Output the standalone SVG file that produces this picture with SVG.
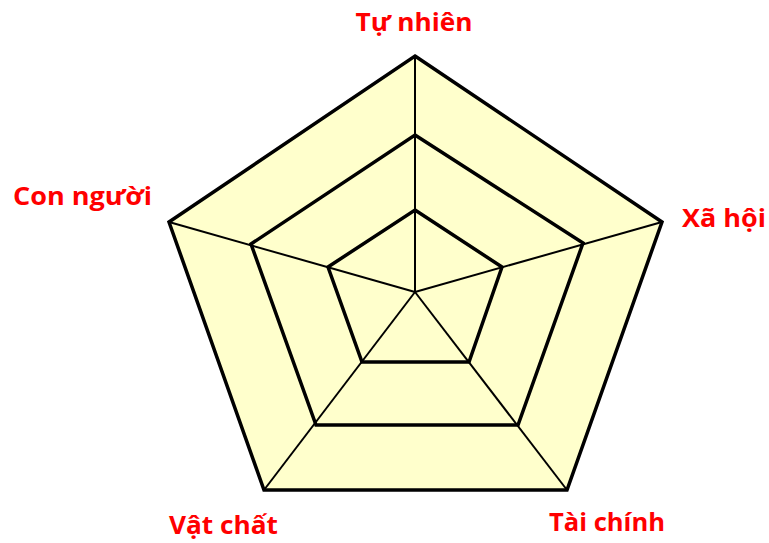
<svg xmlns="http://www.w3.org/2000/svg" width="769" height="543" viewBox="0 0 769 543">
<style>
.lbl{font-family:"Open Sans","Noto Sans","Liberation Sans",sans-serif;font-weight:bold;font-size:25px;fill:#FF0000}
.ring{fill:none;stroke:#000;stroke-width:3.5;stroke-linejoin:miter}
.spoke{stroke:#000;stroke-width:2}
</style>
<rect width="769" height="543" fill="#FFFFFF"/>
<g id="outer">
<polygon points="415,56 662,222 567,490 264,490 169,222" fill="#FFFFCC" stroke="none"/>
</g>
<g id="connectors">
<line class="spoke" x1="415" y1="292" x2="415" y2="56"/>
<line class="spoke" x1="415" y1="292" x2="662" y2="222"/>
<line class="spoke" x1="415" y1="292" x2="567" y2="490"/>
<line class="spoke" x1="415" y1="292" x2="264" y2="490"/>
<line class="spoke" x1="415" y1="292" x2="169" y2="222"/>
</g>
<g id="rings">
<polygon class="ring" points="415,56 662,222 567,490 264,490 169,222" stroke-width="3"/>
<polygon class="ring" points="415,135 583,243 518,425 316,425 251,244"/>
<polygon class="ring" points="415,210 502,267 469,362 362,362 328,267"/>
</g>
<g id="label-tu-nhien"><text class="lbl" x="414" y="31" text-anchor="middle" textLength="117" lengthAdjust="spacingAndGlyphs">Tự nhiên</text></g>
<g id="label-con-nguoi"><text class="lbl" x="13" y="205" textLength="139" lengthAdjust="spacingAndGlyphs">Con người</text></g>
<g id="label-xa-hoi"><text class="lbl" x="682" y="227" textLength="84" lengthAdjust="spacingAndGlyphs">Xã hội</text></g>
<g id="label-vat-chat"><text class="lbl" x="169" y="534" textLength="109" lengthAdjust="spacingAndGlyphs">Vật chất</text></g>
<g id="label-tai-chinh"><text class="lbl" x="549" y="531" textLength="116" lengthAdjust="spacingAndGlyphs">Tài chính</text></g>
</svg>
